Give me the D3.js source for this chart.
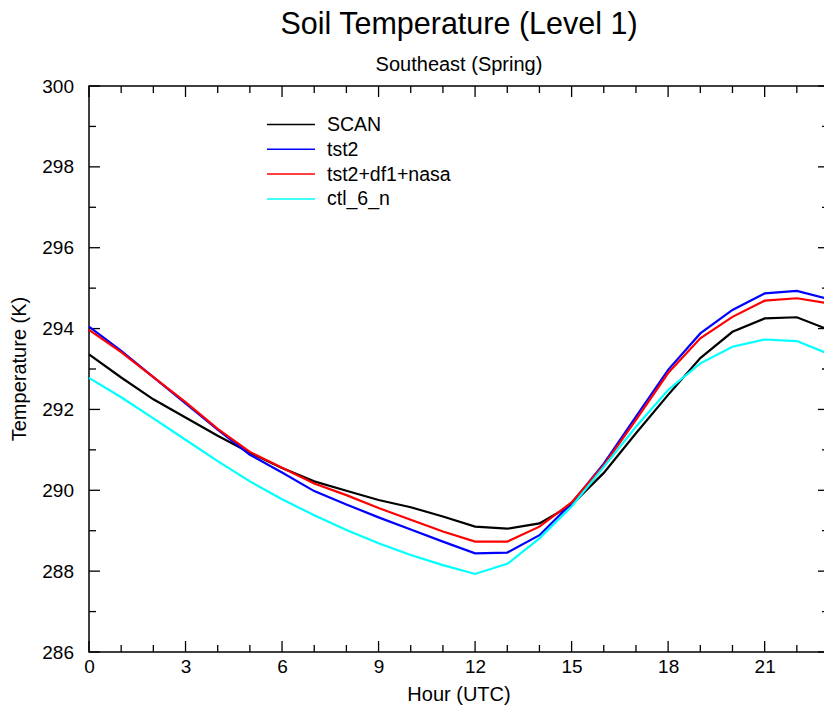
<!DOCTYPE html>
<html><head><meta charset="utf-8">
<script src="https://cdn.jsdelivr.net/npm/d3@7"></script>
<style>body{margin:0;background:#fff}svg{display:block}text{font-family:"Liberation Sans",Arial,sans-serif}</style>
</head><body><svg id="c" width="824" height="711"></svg>
<script>
const hours = d3.range(0, 24);
const seriesNames = ["SCAN", "tst2", "tst2+df1+nasa", "ctl_6_n"];
const seriesColors = ["#000000", "#0000ff", "#ff0000", "#00ffff"];
const scan = [293.36, 292.79, 292.25, 291.8, 291.35, 290.93, 290.55, 290.22, 289.99, 289.76, 289.58, 289.35, 289.1, 289.05, 289.18, 289.64, 290.43, 291.41, 292.36, 293.27, 293.92, 294.25, 294.28, 293.97];
const tst2 = [294.05, 293.45, 292.8, 292.15, 291.5, 290.88, 290.44, 289.98, 289.65, 289.33, 289.03, 288.73, 288.44, 288.46, 288.89, 289.68, 290.66, 291.82, 292.98, 293.88, 294.46, 294.87, 294.93, 294.73];
const tst2df1 = [293.97, 293.42, 292.8, 292.18, 291.52, 290.95, 290.56, 290.17, 289.88, 289.56, 289.27, 288.98, 288.73, 288.73, 289.1, 289.7, 290.62, 291.74, 292.9, 293.76, 294.29, 294.69, 294.75, 294.62];
const ctl6n = [292.78, 292.3, 291.78, 291.25, 290.72, 290.22, 289.78, 289.38, 289.02, 288.69, 288.4, 288.15, 287.93, 288.18, 288.81, 289.6, 290.58, 291.57, 292.48, 293.14, 293.55, 293.73, 293.69, 293.37];
const xTicks = [0, 3, 6, 9, 12, 15, 18, 21];
const yTicks = [286, 288, 290, 292, 294, 296, 298, 300];
const title = "Soil Temperature (Level 1)";
const subtitle = "Southeast (Spring)";
const xLabel = "Hour (UTC)";
const yLabel = "Temperature (K)";

const allSeries = [scan, tst2, tst2df1, ctl6n];
const svg = d3.select("#c");
const L = 89, R = 829, T = 86, B = 652;
const x = d3.scaleLinear().domain([0, 23]).range([L, R]);
const y = d3.scaleLinear().domain([286, 300]).range([B, T]);

const g = svg.append("g");
g.append("rect").attr("x", L).attr("y", T).attr("width", R - L).attr("height", B - T)
  .attr("fill", "none").attr("stroke", "#000").attr("stroke-width", 1.5);

const major = 11, minor = 7;
const xMinor = d3.range(0, 24);
const yMinor = d3.range(286, 301);
function tick(x1, y1, x2, y2) {
  g.append("line").attr("x1", x1).attr("y1", y1).attr("x2", x2).attr("y2", y2)
    .attr("stroke", "#000").attr("stroke-width", 1.3);
}
xMinor.forEach(h => {
  const len = xTicks.includes(h) ? major : minor;
  tick(x(h), B, x(h), B - len);
  tick(x(h), T, x(h), T + len);
});
yMinor.forEach(v => {
  const len = yTicks.includes(v) ? major : minor;
  tick(L, y(v), L + len, y(v));
  tick(R, y(v), R - len, y(v));
});

const xAxis = d3.axisBottom(x).tickValues(xTicks).tickSize(0).tickPadding(8).tickFormat(d3.format("d"));
const yAxis = d3.axisLeft(y).tickValues(yTicks).tickSize(0).tickPadding(15).tickFormat(d3.format("d"));
const gx = svg.append("g").attr("transform", `translate(0,${B})`).call(xAxis);
const gy = svg.append("g").attr("transform", `translate(${L},0)`).call(yAxis);
[gx, gy].forEach(a => {
  a.select(".domain").remove();
  a.selectAll("text").attr("font-size", 19).attr("fill", "#000").attr("font-family", "Liberation Sans, Arial, sans-serif");
});

const line = d3.line().x((d, i) => x(hours[i])).y(d => y(d));
const plot = svg.append("g");
allSeries.forEach((s, i) => {
  plot.append("path").datum(s).attr("d", line).attr("fill", "none")
    .attr("stroke", seriesColors[i]).attr("stroke-width", 2.2);
});

const leg = svg.append("g");
seriesNames.forEach((n, i) => {
  const ly = 124.5 + i * 24.8;
  leg.append("line").attr("x1", 267).attr("x2", 315).attr("y1", ly).attr("y2", ly)
    .attr("stroke", seriesColors[i]).attr("stroke-width", 1.5);
  leg.append("text").attr("x", 327).attr("y", ly + 6.5).attr("font-size", 19.5).text(n);
});

const cx = (L + R) / 2;
svg.append("text").attr("x", cx).attr("y", 34).attr("text-anchor", "middle").attr("font-size", 30.5).text(title);
svg.append("text").attr("x", cx).attr("y", 71).attr("text-anchor", "middle").attr("font-size", 20).text(subtitle);
svg.append("text").attr("x", cx).attr("y", 701).attr("text-anchor", "middle").attr("font-size", 20).text(xLabel);
svg.append("text").attr("transform", `translate(26,${(T + B) / 2}) rotate(-90)`).attr("text-anchor", "middle").attr("font-size", 20).text(yLabel);
</script></body></html>
